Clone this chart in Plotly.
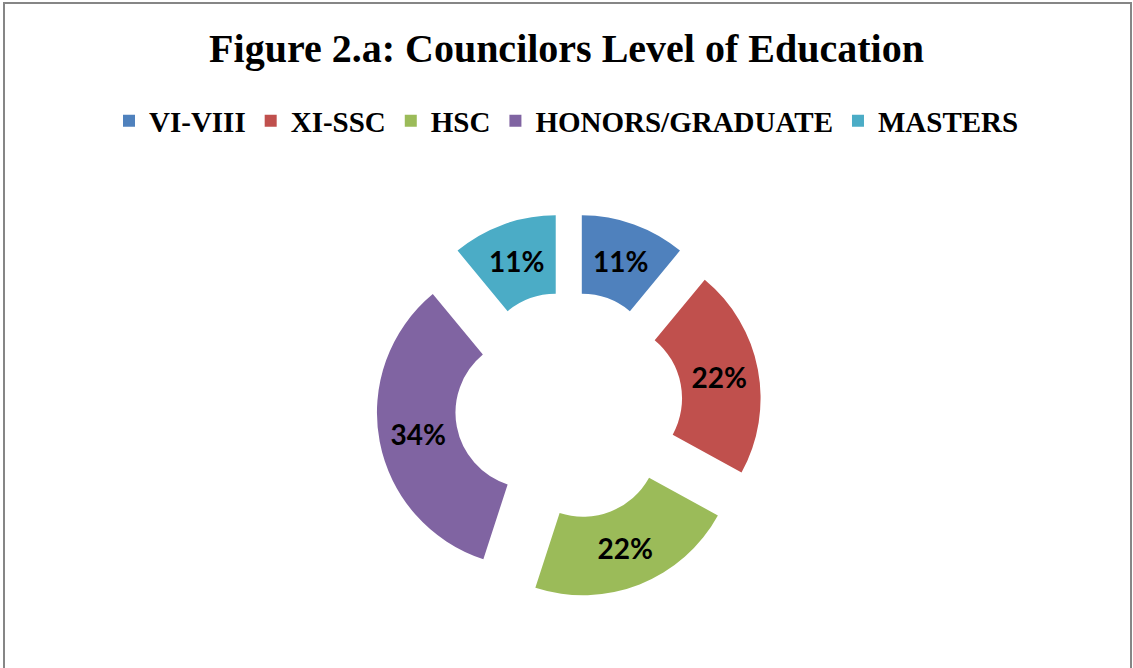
import plotly.graph_objects as go

# Councilors' education levels (share of councilors, %)
levels = ["VI-VIII", "XI-SSC", "HSC", "HONORS/GRADUATE", "MASTERS"]
shares = [11, 22, 22, 34, 11]
colors = ["#4F81BD", "#C0504D", "#9BBB59", "#8064A2", "#4BACC6"]

W, H = 1133, 668

fig = go.Figure(
    go.Pie(
        labels=levels,
        values=shares,
        hole=0.49,
        pull=[0.25] * len(levels),
        sort=False,
        direction="clockwise",
        rotation=0,
        marker=dict(colors=colors, line=dict(width=0)),
        textinfo="percent",
        texttemplate="%{percent:.0%}",
        textposition="inside",
        insidetextorientation="horizontal",
        textfont=dict(family="Lato", size=28, color="black", weight="bold"),
        domain=dict(x=[0.004, 1.0], y=[(H - 598) / H, (H - 213) / H]),
        showlegend=True,
    )
)

fig.update_layout(
    width=W,
    height=H,
    margin=dict(l=0, r=0, t=0, b=0),
    paper_bgcolor="white",
    plot_bgcolor="white",
    title=dict(
        text="Figure 2.a: Councilors Level of Education",
        x=0.5,
        xanchor="center",
        y=1 - 48 / H,
        yanchor="middle",
        font=dict(family="Liberation Serif", size=40, color="black", weight="bold"),
    ),
    legend=dict(
        orientation="h",
        x=0.5,
        xanchor="center",
        y=1 - 121 / H,
        yanchor="middle",
        font=dict(family="Liberation Serif", size=29, color="black", weight="bold"),
        itemclick=False,
        traceorder="normal",
    ),
    shapes=[
        dict(
            type="rect",
            xref="paper",
            yref="paper",
            x0=4 / W,
            x1=(W - 2) / W,
            y0=-0.05,
            y1=1 - 3 / H,
            line=dict(color="#868686", width=2),
        )
    ],
)

fig.write_html("out.html")
